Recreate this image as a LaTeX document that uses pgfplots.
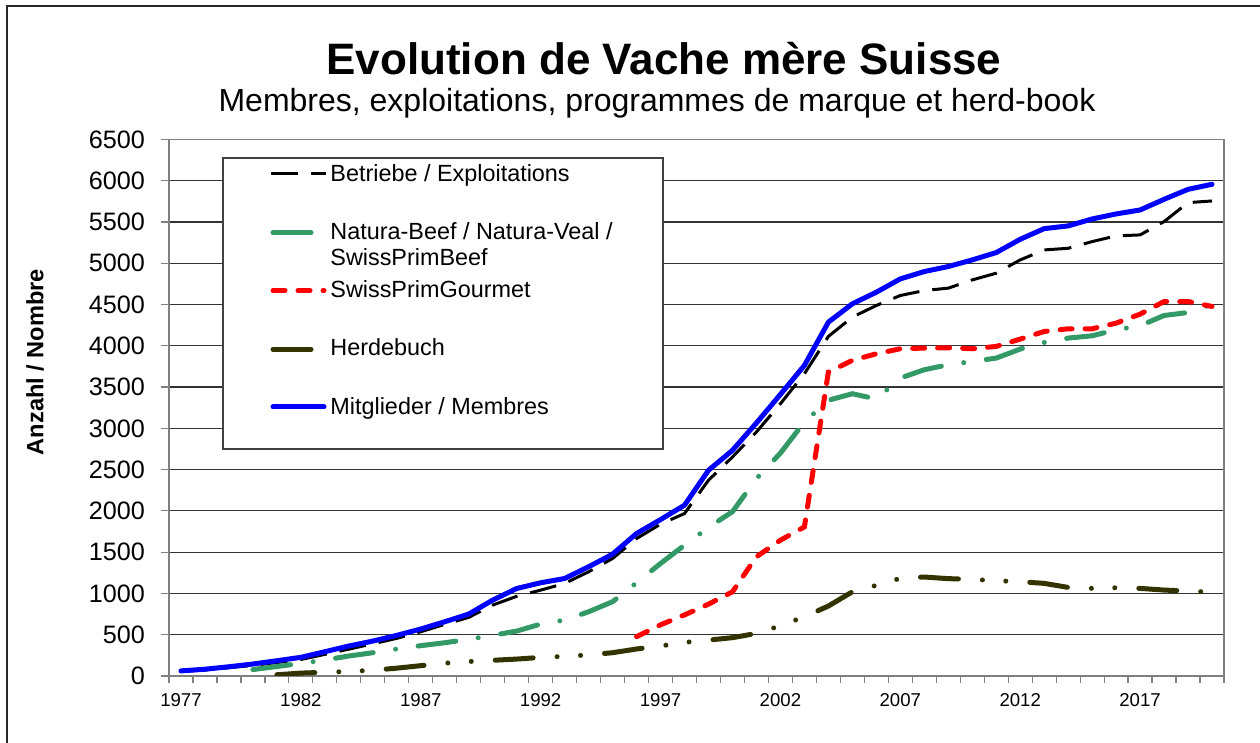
\documentclass[border=0pt]{standalone}
\usepackage{fontspec}
\setmainfont{Liberation Sans}
\usepackage{pgfplots}
\usepackage{pgfplotstable}
\pgfplotsset{compat=1.18}
\definecolor{cblue}{RGB}{0,0,255}
\definecolor{cred}{RGB}{255,0,0}
\definecolor{cgreen}{RGB}{51,153,102}
\definecolor{colive}{RGB}{51,51,0}
\definecolor{axgray}{RGB}{128,128,128}

\pgfplotstableread{
year blue black green red herd
1977 62 55 nan nan nan
1978 82 72 nan nan nan
1979 112 100 nan nan nan
1980 145 128 78 nan nan
1981 185 163 115 nan 15
1982 226 200 153 nan 35
1983 294 262 194 nan 45
1984 363 325 242 nan 55
1985 423 390 282 nan 70
1986 492 456 327 nan 95
1987 569 536 367 nan 125
1988 657 625 403 nan 155
1989 750 710 444 nan 175
1990 919 859 492 nan 190
1991 1060 965 544 nan 205
1992 1129 1040 629 nan 225
1993 1181 1121 677 nan 238
1994 1323 1262 778 nan 255
1995 1476 1423 900 nan 282
1996 1726 1665 1130 476 327
1997 1895 1839 1363 620 363
1998 2069 1968 1585 740 407
1999 2492 2371 1800 870 435
2000 2734 2653 1990 1020 464
2001 3065 2956 2390 1444 516
2002 3411 3298 2700 1645 609
2003 3762 3661 3077 1806 718
2004 4286 4113 3340 3681 847
2005 4508 4347 3419 3823 1020
2006 4649 4488 3355 3903 1098
2007 4810 4609 3609 3964 1183
2008 4899 4669 3710 3972 1199
2009 4960 4698 3770 3976 1179
2010 5040 4798 3810 3964 1171
2011 5129 4879 3851 3992 1154
2012 5290 5040 3960 4081 1142
2013 5419 5161 4040 4173 1122
2014 5452 5181 4093 4206 1073
2015 5536 5262 4121 4206 1061
2016 5597 5331 4194 4274 1069
2017 5645 5343 4242 4383 1061
2018 5774 5504 4367 4536 1041
2019 5895 5734 4403 4536 1028
2020 5956 5754 4504 4476 1016
}\data

\tikzset{
  sblack/.style={black, line width=1.5pt, dash pattern=on 13.5pt off 6.5pt},
  sred/.style={cred, line width=2.5pt, line cap=round, dash pattern=on 6pt off 6.5pt},
  sgreen/.style={cgreen, line width=2.5pt, line cap=round, dash pattern=on 19pt off 11.35pt on 0.01pt off 11.35pt},
  solive/.style={colive, line width=2.5pt, line cap=round, dash pattern=on 19pt off 12pt on 0.01pt off 11.7pt on 0.01pt off 12pt},
  sblue/.style={cblue, line width=2.5pt, line join=round, line cap=round},
}

\begin{document}
\begin{tikzpicture}
\useasboundingbox (0,0) rectangle (630pt,371.5pt);
\begin{axis}[
  at={(84.5pt,33.5pt)}, anchor=south west,
  scale only axis, width=527.5pt, height=268.3pt,
  xmin=-0.5, xmax=43.5, ymin=0, ymax=6500,
  axis line style={draw=axgray, line width=0.75pt},
  ytick={0,500,...,6500},
  ymajorgrids, grid style={black!80, line width=0.6pt},
  xtick={0,5,...,40},
  xticklabels={1977,1982,1987,1992,1997,2002,2007,2012,2017},
  minor xtick={-0.5,0.5,...,43.5},
  xtick pos=bottom, ytick pos=left,
  tick align=outside, major tick length=4pt, minor tick length=3.5pt,
  major x tick style={draw=none},
  minor x tick style={draw=axgray, line width=0.6pt},
  ytick style={draw=axgray, line width=0.6pt},
  yticklabel style={font=\fontsize{12.6}{14}\selectfont, xshift=-4.5pt},
  xticklabel style={font=\fontsize{9.3}{11}\selectfont},
  /pgf/number format/assume math mode=true,
  /pgf/number format/1000 sep={},
  scaled y ticks=false,
  x tick label style={yshift=-1pt},
]
\addplot[sblack] table[x expr=\thisrow{year}-1977, y=black] {\data};
\addplot[sgreen] table[x expr=\thisrow{year}-1977, y=green] {\data};
\addplot[sred] table[x expr=\thisrow{year}-1977, y=red] {\data};
\addplot[solive] table[x expr=\thisrow{year}-1977, y=herd] {\data};
\addplot[sblue] table[x expr=\thisrow{year}-1977, y=blue] {\data};
\end{axis}

\begin{scope}[x=0.5pt,y=-0.5pt,yshift=371.5pt]
  % outer border
  \draw[black!85, line width=0.7pt] (7,745) -- (7,6) -- (1262,6);
  % title
  \node[anchor=base, font=\fontsize{22}{26}\selectfont\bfseries] at (664,75) {Evolution de Vache mère Suisse};
  \node[anchor=base, font=\fontsize{16}{19}\selectfont] at (657,112) {Membres, exploitations, programmes de marque et herd-book};
  % y label
  \node[rotate=90, font=\fontsize{11.8}{14}\selectfont\bfseries] at (35,362) {Anzahl / Nombre};
  % legend
  \filldraw[fill=white, draw=black!75, line width=0.6pt] (223,158) rectangle (663,449);
  \draw[sblack] (271,174) -- (326,174);
  \draw[sgreen] (273,232.7) -- (324,232.7);
  \draw[sred] (273,290.7) -- (324,290.7);
  \draw[solive] (273,349.3) -- (324,349.3);
  \draw[sblue] (273,407) -- (324,407);
  \begin{scope}[every node/.style={anchor=base west, inner sep=0pt, font=\fontsize{11.7}{14}\selectfont}]
    \node at (330,181.7) {Betriebe / Exploitations};
    \node at (330,239.3) {Natura-Beef / Natura-Veal /};
    \node at (330,266) {SwissPrimBeef};
    \node at (330,297.7) {SwissPrimGourmet};
    \node at (330,356) {Herdebuch};
    \node at (330,414.3) {Mitglieder / Membres};
  \end{scope}
\end{scope}
\end{tikzpicture}
\end{document}
